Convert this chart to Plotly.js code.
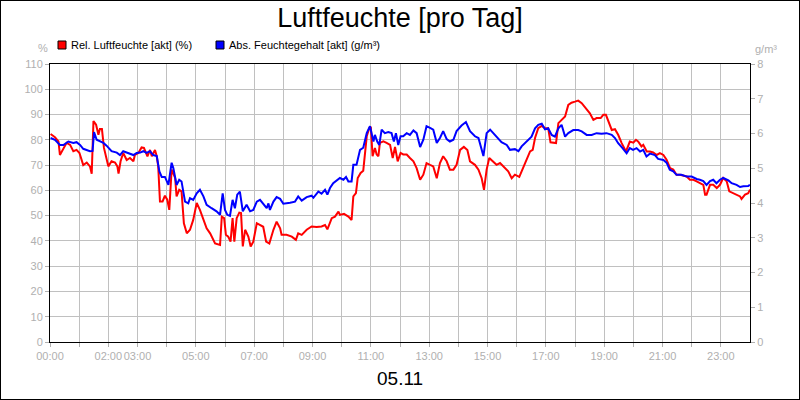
<!DOCTYPE html>
<html>
<head>
<meta charset="utf-8">
<script src="https://cdn.plot.ly/plotly-3.0.1.min.js"></script>
<style>
  body { margin: 0; background: #fff; }
  #wrap { position: relative; width: 800px; height: 400px; }
  #frame { position: absolute; left: 0; top: 0; width: 798px; height: 398px; border: 1px solid #000; pointer-events: none; }
</style>
</head>
<body>
<div id="wrap">
  <div id="myDiv" style="width:800px;height:400px;"></div>
  <div id="frame"></div>
</div>
<script>
// time of day in hours
var relTime = [0.02,0.17,0.29,0.34,0.57,0.69,0.8,0.91,1.01,1.14,1.26,1.37,1.43,1.49,1.58,1.66,1.71,1.78,1.85,1.94,2.0,2.11,2.23,2.31,2.35,2.42,2.51,2.63,2.74,2.86,2.91,3.03,3.14,3.22,3.34,3.43,3.49,3.6,3.66,3.71,3.77,3.86,3.94,4.02,4.09,4.17,4.29,4.34,4.43,4.51,4.59,4.69,4.8,4.91,5.03,5.14,5.26,5.37,5.49,5.66,5.83,5.89,5.97,6.03,6.11,6.19,6.26,6.32,6.4,6.49,6.55,6.61,6.69,6.8,6.88,6.97,7.09,7.2,7.31,7.41,7.52,7.66,7.77,7.89,
  7.94,8.11,8.29,8.43,8.51,8.63,8.8,8.97,9.14,9.31,9.43,9.51,9.6,9.66,9.77,9.89,9.94,10.08,10.23,10.34,10.4,10.49,10.55,10.65,10.74,10.8,10.86,10.95,11.0,11.06,11.14,11.2,11.26,11.31,11.43,11.54,11.66,11.75,11.83,11.92,12.02,12.11,12.23,12.34,12.46,12.57,12.69,12.8,12.91,13.03,13.14,13.26,13.37,13.48,13.6,13.71,13.83,13.94,14.06,14.19,14.31,14.4,14.57,14.69,14.8,14.88,14.97,15.06,15.2,15.31,15.43,15.54,15.71,15.83,15.94,
  16.09,16.23,16.34,16.46,16.55,16.63,16.74,16.86,16.97,17.08,17.16,17.26,17.35,17.43,17.54,17.66,17.77,17.88,18.0,18.11,18.23,18.34,18.51,18.63,18.74,18.88,18.97,19.06,19.14,19.26,19.37,19.48,19.6,19.75,19.88,20.0,20.09,20.17,20.28,20.34,20.46,20.57,20.68,20.8,20.91,21.03,21.14,21.26,21.37,21.48,21.6,21.71,21.83,21.94,22.06,22.17,22.28,22.4,22.46,22.51,22.63,22.74,22.86,22.97,23.08,23.2,23.29,23.43,23.54,23.66,23.71,23.83,23.94,24.0];
var relHum = [82.3,81,79.4,74,78.8,78,75.5,76,74.8,70,71,69.5,66.6,87.4,86,82,84.3,84.3,76.8,72,69.5,71.5,71,69.5,66.6,71.5,74.8,72,72.8,71.5,74,74.8,77,76.8,73.5,76,73.5,76,73.5,69.5,55.6,55.6,57.9,56.3,52.3,68.2,64.9,57.6,60.2,59.6,47,43,44.4,48.3,55,52.3,48.3,45,43,39,38.4,49.6,49,42.4,41.7,39.7,49,39.7,49,51.2,51,37.8,44.4,41.7,37.8,39.7,47,46.3,45.6,39.7,39,44.4,47.6,45,
  42.4,42.4,41.7,40.4,43,42.4,44.4,45.7,45.5,45.7,46.3,44.6,47,49,49.6,51.6,50.3,50.7,49.6,48.3,57.6,58.9,64.9,66.9,67.8,76,81.4,84.7,85.1,73.5,76.8,74.2,73.5,78.8,79.4,78.8,78,72.8,77.2,71.5,74.8,74.2,74.2,72.8,71.5,68.8,64.2,66.2,70.8,70.1,69.5,64.8,70.8,73.5,71.5,68.2,68.2,70.1,76,77.2,76,71.5,70.1,68.2,64.8,60.2,68.2,72.8,71.5,70.1,70.8,69.5,67.5,64.8,66.2,
  65.3,69.2,72.8,75.4,76,80.7,84.6,85.5,84.6,84.6,79,78.7,78.7,86.6,87.9,89.2,93.8,94.7,95.1,95.5,94.5,92.9,90.5,87.9,88.6,88.6,89.9,89.9,87.2,83.9,84.2,82,78.7,75.4,79.3,78.9,80,79.3,77.4,78,75.4,75.4,75,74,74.7,74,72.1,68.8,68.2,66.2,66.2,65.8,65.5,64.2,64.2,63.6,62.9,62.2,58.3,58.3,62.2,62.2,60.9,62.2,64.9,63.6,59.6,58.9,58.3,57.6,56.6,58.3,58.9,60.3];

var absTime = [0.02,0.17,0.34,0.46,0.63,0.8,0.91,1.03,1.14,1.26,1.37,1.46,1.51,1.6,1.71,1.83,1.94,2.11,2.29,2.4,2.51,2.69,2.86,2.97,3.09,3.2,3.31,3.43,3.54,3.66,3.75,3.83,3.94,4.06,4.17,4.23,4.34,4.43,4.51,4.63,4.74,4.8,4.91,5.03,5.14,5.26,5.37,5.54,5.71,5.83,5.92,6.0,6.08,6.17,6.26,6.34,6.42,6.51,6.61,6.74,6.86,6.97,7.09,7.2,7.34,7.43,7.49,7.54,7.66,
  7.77,7.89,8.0,8.23,8.4,8.51,8.63,8.8,8.97,9.03,9.2,9.31,9.43,9.51,9.6,9.71,9.83,9.94,10.06,10.15,10.23,10.34,10.4,10.51,10.63,10.74,10.86,10.97,11.09,11.14,11.22,11.29,11.37,11.48,11.6,11.71,11.79,11.86,11.94,12.02,12.11,12.23,12.34,12.46,12.57,12.69,12.8,12.91,13.03,13.14,13.26,13.37,13.48,13.6,13.71,13.83,13.94,14.11,14.26,14.4,14.57,14.69,14.86,14.97,15.09,15.26,15.37,15.48,15.66,15.77,15.94,16.06,
  16.17,16.28,16.4,16.51,16.63,16.74,16.86,16.97,17.08,17.2,17.31,17.43,17.54,17.66,17.77,17.94,18.11,18.23,18.4,18.57,18.74,18.91,19.08,19.26,19.37,19.48,19.63,19.77,19.88,19.99,20.11,20.23,20.34,20.45,20.57,20.74,20.85,21.03,21.14,21.25,21.37,21.48,21.65,21.83,22.0,22.17,22.28,22.4,22.51,22.63,22.74,22.85,22.97,23.08,23.26,23.37,23.54,23.66,23.77,23.94,24.0];
var absHum = [5.87,5.82,5.67,5.67,5.77,5.73,5.75,5.67,5.56,5.53,5.49,5.5,6.04,5.82,5.77,5.73,5.65,5.49,5.45,5.38,5.49,5.44,5.38,5.44,5.45,5.49,5.44,5.49,5.38,5.35,4.91,4.75,4.75,4.52,5.16,5.0,4.52,4.67,4.62,4.04,3.99,4.14,4.09,4.28,4.38,4.19,3.95,3.85,3.76,3.66,4.28,3.8,3.66,3.63,4.09,3.85,4.24,4.33,3.76,3.95,3.76,3.8,4.04,4.09,3.95,3.85,3.99,3.8,4.04,
  4.17,4.12,3.98,4.01,4.04,4.19,4.07,4.17,4.21,4.15,4.33,4.27,4.38,4.24,4.43,4.57,4.65,4.72,4.67,4.75,4.62,4.62,5.1,5.1,5.53,5.59,6.01,6.21,5.77,5.96,5.77,5.67,6.11,6.01,6.04,6.01,5.77,6.01,5.67,5.92,5.92,6.01,5.96,6.09,6.01,5.61,5.82,6.21,6.16,6.11,5.73,5.87,6.07,5.84,5.77,5.82,6.07,6.23,6.33,6.07,5.92,5.87,5.35,6.01,6.11,5.96,5.84,5.75,5.67,5.53,5.55,5.49,
  5.63,5.72,5.82,5.91,6.15,6.25,6.28,6.12,6.15,5.96,5.91,6.15,6.25,5.91,6.01,6.1,6.1,6.06,5.96,5.96,6.01,5.99,6.01,5.96,5.87,5.72,5.58,5.43,5.58,5.53,5.58,5.48,5.53,5.34,5.42,5.38,5.27,5.24,5.16,4.96,4.91,4.81,4.81,4.76,4.76,4.69,4.67,4.63,4.52,4.63,4.67,4.57,4.67,4.72,4.65,4.57,4.52,4.46,4.48,4.49,4.52];

var hourTicks = [0,1,2,3,4,5,6,7,8,9,10,11,12,13,14,15,16,17,18,19,20,21,22,23];
var hourLabels = ['00:00','','02:00','03:00','','05:00','','07:00','','09:00','','11:00','','13:00','','15:00','','17:00','','19:00','','21:00','','23:00'];

var relName = 'Rel. Luftfeuchte [akt] (%)';
var absName = 'Abs. Feuchtegehalt [akt] (g/m³)';

var fontFam = '"Liberation Sans", Arial, sans-serif';
var grey = '#b0b0b0';

var trace1 = {
  x: relTime, y: relHum,
  type: 'scatter', mode: 'lines',
  name: relName,
  line: {color: '#ff0000', width: 2},
  showlegend: false
};
var trace2 = {
  x: absTime, y: absHum,
  type: 'scatter', mode: 'lines',
  name: absName,
  yaxis: 'y2',
  line: {color: '#0000ff', width: 2},
  showlegend: false
};

// plot area is 700 x 278 px, legend / unit labels sit above it in paper units
function px(x) { return (x - 50) / 700; }
function py(y) { return (342 - y) / 278; }

var layout = {
  width: 800, height: 400,
  margin: {l: 50, r: 50, t: 64, b: 58},
  paper_bgcolor: '#fff', plot_bgcolor: '#fff',
  font: {family: fontFam, size: 11, color: grey},
  title: {text: 'Luftfeuchte [pro Tag]', font: {family: fontFam, size: 27, color: '#000'}, x: 0.5, xanchor: 'center', y: 0.955, yanchor: 'middle'},
  xaxis: {
    range: [0, 24], tickmode: 'array', tickvals: hourTicks, ticktext: hourLabels, tickangle: 0,
    showgrid: true, gridcolor: '#c0c0c0', gridwidth: 1,
    ticks: 'outside', ticklen: 4, tickcolor: grey,
    tickfont: {size: 11, color: grey},
    showline: true, linecolor: '#000', linewidth: 1, mirror: true, zeroline: false
  },
  yaxis: {
    range: [0, 110], tick0: 0, dtick: 10,
    showgrid: true, gridcolor: '#c0c0c0', gridwidth: 1,
    ticks: 'outside', ticklen: 4, tickcolor: grey,
    tickfont: {size: 11, color: grey},
    showline: true, linecolor: '#000', linewidth: 1, zeroline: false
  },
  yaxis2: {
    overlaying: 'y', side: 'right',
    range: [0, 8], tick0: 0, dtick: 1, showgrid: false,
    ticks: 'outside', ticklen: 4, tickcolor: grey,
    tickfont: {size: 11, color: grey},
    showline: true, linecolor: '#000', linewidth: 1, zeroline: false
  },
  shapes: [
    {type: 'rect', xref: 'paper', yref: 'paper', x0: px(58), x1: px(66), y0: py(49), y1: py(41), fillcolor: '#ff0000', line: {color: '#000', width: 1}},
    {type: 'rect', xref: 'paper', yref: 'paper', x0: px(216), x1: px(224), y0: py(49), y1: py(41), fillcolor: '#0000ff', line: {color: '#000', width: 1}}
  ],
  annotations: [
    {text: relName, xref: 'paper', yref: 'paper', x: px(69), y: py(45), xanchor: 'left', yanchor: 'middle', showarrow: false, font: {size: 11, color: '#000'}},
    {text: absName, xref: 'paper', yref: 'paper', x: px(227), y: py(45), xanchor: 'left', yanchor: 'middle', showarrow: false, font: {size: 11, color: '#000'}},
    {text: '%', xref: 'paper', yref: 'paper', x: px(43), y: py(48), xanchor: 'center', yanchor: 'middle', showarrow: false, font: {size: 11, color: grey}},
    {text: 'g/m³', xref: 'paper', yref: 'paper', x: px(766), y: py(49), xanchor: 'center', yanchor: 'middle', showarrow: false, font: {size: 11, color: grey}},
    {text: '05.11', xref: 'paper', yref: 'paper', x: 0.5, y: py(378), xanchor: 'center', yanchor: 'middle', showarrow: false, font: {size: 19, color: '#000'}}
  ]
};

Plotly.newPlot('myDiv', [trace1, trace2], layout, {displayModeBar: false, staticPlot: true});
</script>
</body>
</html>
